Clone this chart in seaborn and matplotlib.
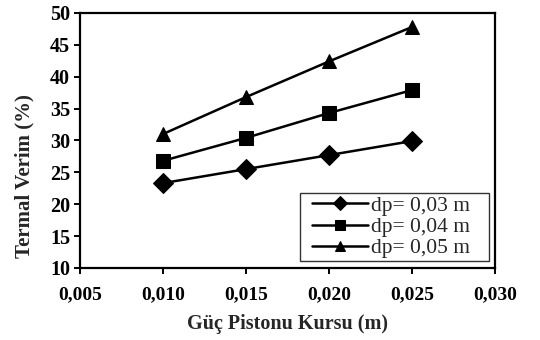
import matplotlib
matplotlib.use("Agg")
import matplotlib.pyplot as plt
from matplotlib.offsetbox import DrawingArea
import seaborn as sns
import pandas as pd

# === Data ===
stroke = [0.010, 0.015, 0.020, 0.025]
eff_dp003 = [23.3, 25.5, 27.7, 29.9]
eff_dp004 = [26.8, 30.4, 34.3, 37.9]
eff_dp005 = [31.0, 36.8, 42.4, 47.8]
labels = ["dp= 0,03 m", "dp= 0,04 m", "dp= 0,05 m"]

df = pd.DataFrame({
    "x": stroke * 3,
    "y": eff_dp003 + eff_dp004 + eff_dp005,
    "series": [labels[0]] * 4 + [labels[1]] * 4 + [labels[2]] * 4,
})

# === Style ===
sns.set_theme(style="ticks")
plt.rcParams["font.family"] = ["Liberation Serif", "DejaVu Serif"]

fig = plt.figure(figsize=(5.4, 3.4), dpi=100)
ax = fig.add_axes([0.148, 0.212, 0.769, 0.750])

sns.lineplot(data=df, x="x", y="y", hue="series", style="series",
             palette=["black"] * 3, dashes=False,
             markers={labels[0]: "D", labels[1]: "s", labels[2]: "^"},
             markersize=10, linewidth=1.8, markeredgecolor="black", ax=ax)

ax.set_xlim(0.005, 0.030)
ax.set_ylim(10, 50)
ax.set_xticks([0.005, 0.010, 0.015, 0.020, 0.025, 0.030])
ax.set_xticklabels(["0,005", "0,010", "0,015", "0,020", "0,025", "0,030"])
ax.set_yticks(range(10, 51, 5))
for lab in ax.get_xticklabels():
    lab.set_fontweight("bold")
    lab.set_fontsize(14)
for lab in ax.get_yticklabels():
    lab.set_fontweight("bold")
    lab.set_fontsize(14.5)
ax.tick_params(direction="out", length=4, width=1.4, colors="black")
ax.tick_params(axis="x", pad=9)
ax.tick_params(axis="y", pad=3)
for sp in ax.spines.values():
    sp.set_visible(True)
    sp.set_linewidth(1.6)
    sp.set_color("black")

ax.set_xlabel("Güç Pistonu Kursu (m)", fontsize=14.5, fontweight="bold", labelpad=8)
ax.set_ylabel("Termal Verim (%)", fontsize=15, fontweight="bold")
ax.yaxis.set_label_coords(-0.11, 0.36)

leg = ax.legend(loc="lower right", fontsize=15.5, frameon=True, fancybox=False,
                edgecolor="black", borderpad=0.15, handlelength=2.6,
                labelspacing=0.05, handletextpad=0.15, borderaxespad=0.3)
leg.get_frame().set_linewidth(1.0)
for h in leg.legend_handles:
    h.set_markersize(7)
    h.set_linewidth(1.8)

# extra horizontal padding inside the legend box (left and right only)
col = leg._legend_handle_box.get_children()[0]
for row in col.get_children():
    row.get_children().insert(0, DrawingArea(4, 1))
    row.get_children().append(DrawingArea(9, 1))

fig.savefig("out.png", dpi=100)
plt.close(fig)
